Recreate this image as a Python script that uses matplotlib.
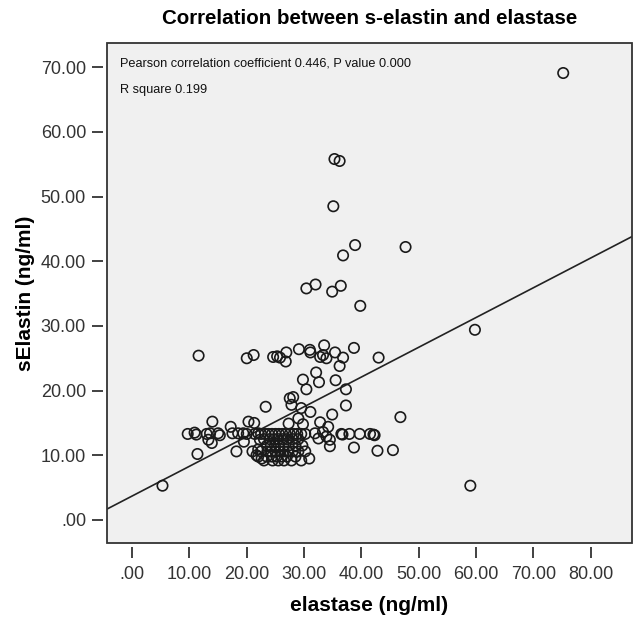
import matplotlib
matplotlib.use('Agg')
import matplotlib.pyplot as plt
import numpy as np
from matplotlib.patches import Rectangle

# Data (elastase vs sElastin, ng/ml)
# sparse / outlying points first, then the dense band around 10-15 ng/ml
elastase = [
    75.2, 35.3, 36.2, 35.1, 38.9, 47.7, 36.8, 30.4, 32.0, 34.9, 36.4, 39.8,
    59.8, 59.0, 5.3,
    11.6, 20.0, 21.2, 24.6, 25.3, 25.8, 26.9, 26.8, 29.1, 31.0, 31.1, 33.5,
    32.8, 33.3, 33.9, 35.4, 36.8, 38.7, 43.0,
    36.2, 32.1, 29.8, 32.6, 35.5, 30.4, 37.3,
    27.5, 28.1, 27.8, 23.3, 29.5, 31.1, 37.3, 34.9, 46.8,
    14.0, 20.3, 21.3, 17.2, 27.3, 29.0, 29.8, 32.8, 34.2,
    9.7, 10.9, 11.2, 13.0, 13.3, 13.6, 13.9, 15.0, 15.3, 17.5, 18.5, 19.4,
    19.5, 20.0, 21.4, 22.0, 22.3,
    31.9, 32.5, 33.3, 33.9, 34.5, 34.5,
    36.5, 36.7, 37.9, 39.7, 41.5, 42.1, 42.3,
    38.7, 42.8, 45.5,
    11.4, 18.2, 21.7, 22.6, 22.0, 30.9,
    # dense block
    22.5, 23.2, 23.8, 24.4, 25.0, 25.6, 26.2, 26.8, 27.5, 28.2, 28.8, 29.5, 30.2,
    23.0, 24.0, 24.8, 25.5, 26.3, 27.0, 28.0, 29.0,
    23.5, 24.2, 24.9, 25.6, 26.4, 27.3, 28.5, 29.7,
    21.0, 22.5, 23.6, 24.3, 25.0, 25.8, 26.5, 27.2, 28.0, 29.0, 30.2,
    22.0, 23.5, 24.4, 25.2, 26.0, 27.0, 28.5,
    23.0, 24.5, 25.5, 26.5, 27.8, 29.5,
]
selastin = [
    69.1, 55.8, 55.5, 48.5, 42.5, 42.2, 40.9, 35.8, 36.4, 35.3, 36.2, 33.1,
    29.4, 5.3, 5.3,
    25.4, 25.0, 25.5, 25.2, 25.3, 25.1, 25.9, 24.5, 26.4, 26.3, 25.9, 27.0,
    25.2, 25.5, 25.0, 25.9, 25.1, 26.6, 25.1,
    23.8, 22.8, 21.7, 21.3, 21.6, 20.2, 20.2,
    18.8, 19.0, 17.8, 17.5, 17.3, 16.7, 17.7, 16.3, 15.9,
    15.2, 15.2, 15.0, 14.4, 14.9, 15.7, 14.8, 15.1, 14.4,
    13.3, 13.5, 13.2, 13.3, 12.4, 13.4, 11.9, 13.4, 13.1, 13.4, 13.4, 13.4,
    12.1, 13.3, 13.3, 13.4, 12.4,
    13.4, 12.6, 13.6, 12.9, 12.4, 11.4,
    13.3, 13.2, 13.3, 13.3, 13.3, 13.2, 13.1,
    11.2, 10.7, 10.8,
    10.2, 10.6, 10.0, 9.5, 10.9, 9.5,
    # dense block
    13.3, 13.3, 13.3, 13.3, 13.3, 13.3, 13.3, 13.3, 13.3, 13.3, 13.3, 13.3, 13.3,
    12.5, 12.5, 12.5, 12.5, 12.5, 12.5, 12.5, 12.5,
    11.5, 11.5, 11.5, 11.5, 11.5, 11.5, 11.5, 11.5,
    10.6, 10.6, 10.6, 10.6, 10.6, 10.6, 10.6, 10.6, 10.6, 10.6, 10.6,
    9.8, 9.8, 9.8, 9.8, 9.8, 9.8, 9.8,
    9.2, 9.2, 9.2, 9.2, 9.2, 9.2,
]

# fitted line as drawn in the reference
fit_intercept = 3.7
fit_slope = 0.46

x_ticks = [0, 10, 20, 30, 40, 50, 60, 70, 80]
y_ticks = [0, 10, 20, 30, 40, 50, 60, 70]


def spss_fmt(v):
    s = '%.2f' % v
    return s[1:] if s.startswith('0') else s


plt.rcParams['font.family'] = ['Liberation Sans', 'DejaVu Sans']

fig = plt.figure(figsize=(6.4, 6.18), dpi=100)
ax = fig.add_axes([0.167, 0.122, 0.8205, 0.808])
ax.set_facecolor('#f0f0f0')

ax.scatter(elastase, selastin, s=56, facecolors='none', edgecolors='#1a1a1a',
           linewidths=1.2, zorder=3)

ax.set_xlim(-4.4, 87.2)
ax.set_ylim(-3.5, 73.7)

xs = np.array(ax.get_xlim())
ax.plot(xs, fit_intercept + fit_slope * xs, color='#222222', lw=1.2, zorder=2)

# SPSS-like frame: ticks sit a bit away from the box
for sp in ax.spines.values():
    sp.set_position(('outward', 3))
    sp.set_visible(False)
ax.add_patch(Rectangle((0, 0), 1, 1, transform=ax.transAxes, fill=False,
                       edgecolor='#333333', lw=1.3, clip_on=False, zorder=4))

ax.set_xticks(x_ticks)
ax.set_xticklabels([spss_fmt(v) for v in x_ticks])
ax.set_yticks(y_ticks)
ax.set_yticklabels([spss_fmt(v) for v in y_ticks])
ax.tick_params(direction='out', length=8, width=1.3, color='#333333',
               labelsize=13, labelcolor='#333333')
ax.tick_params(axis='x', pad=6)
ax.tick_params(axis='y', pad=4)

ax.set_xlabel('elastase (ng/ml)', fontsize=15, fontweight='bold', labelpad=9)
ax.set_ylabel('sElastin (ng/ml)', fontsize=15, fontweight='bold', labelpad=4)

fig.text(0.577, 0.970, 'Correlation between s-elastin and elastase',
         fontsize=14.8, fontweight='bold', ha='center', va='center')

ax.text(0.025, 0.96, 'Pearson correlation coefficient 0.446, P value 0.000',
        transform=ax.transAxes, fontsize=9.2, va='center', color='#111111')
ax.text(0.025, 0.906, 'R square 0.199', transform=ax.transAxes,
        fontsize=9.2, va='center', color='#111111')

fig.savefig('out.png', dpi=100)
